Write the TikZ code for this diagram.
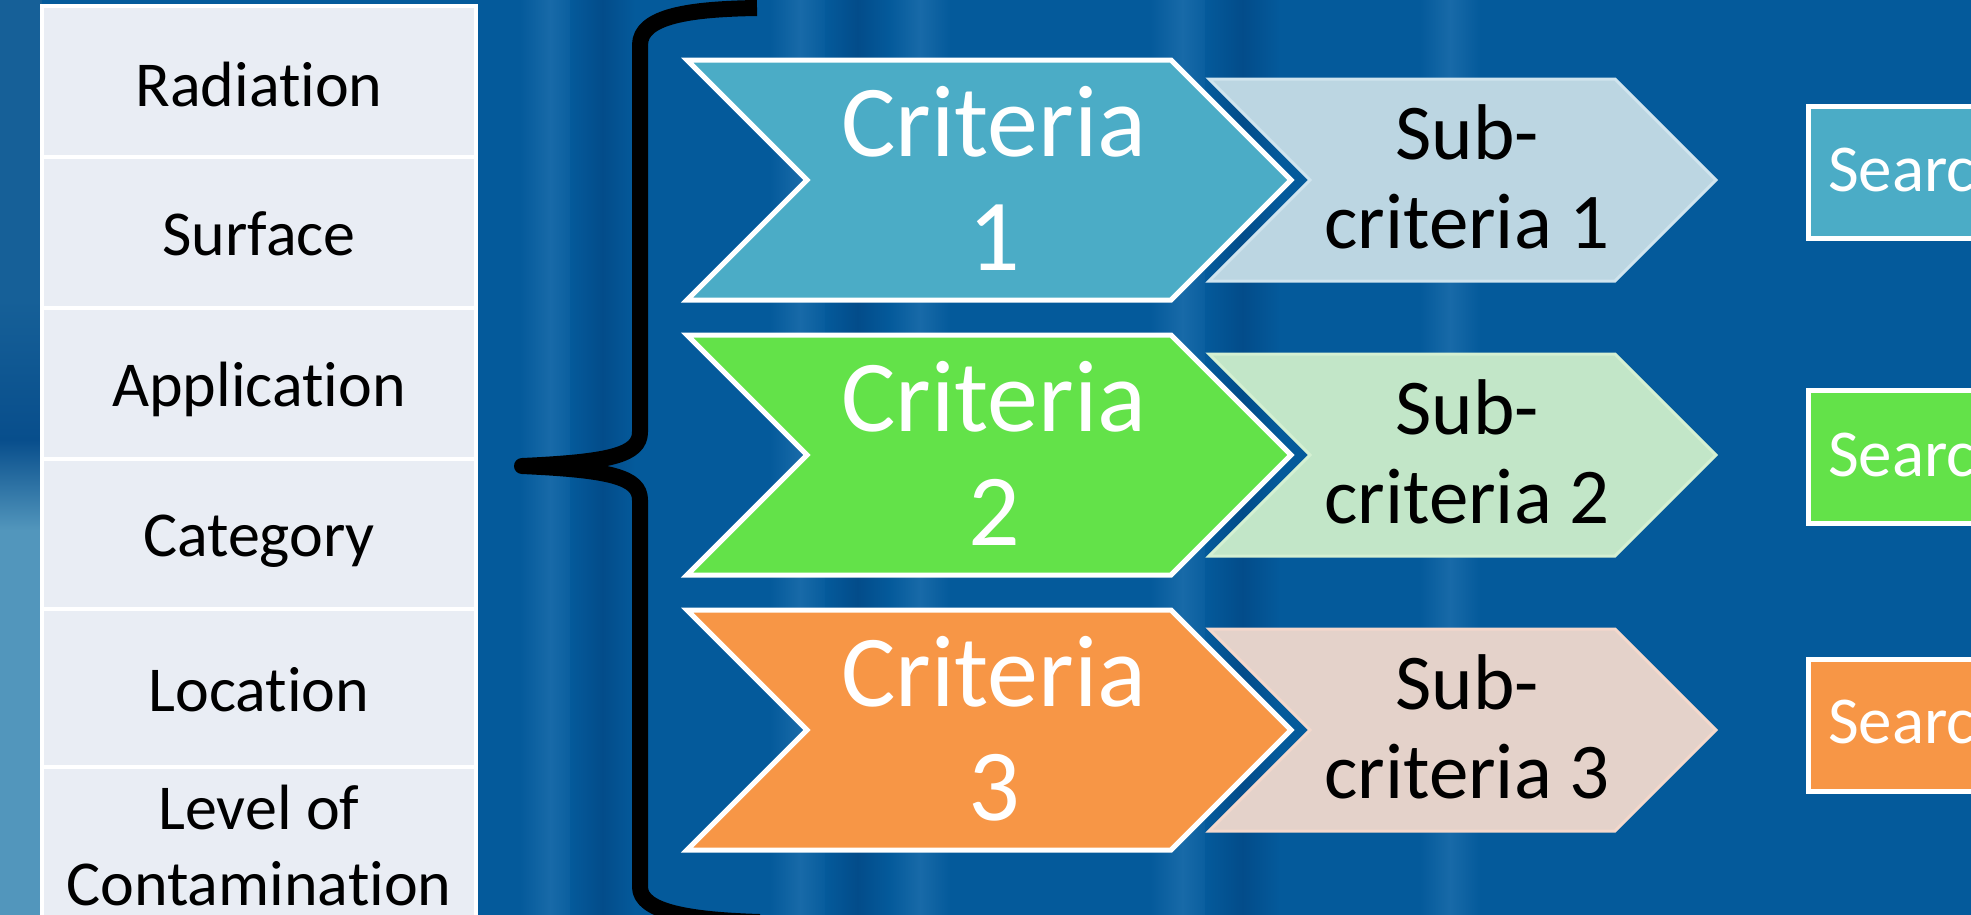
\documentclass[tikz,border=0pt]{standalone}
\usepackage{fontspec}
\setmainfont{Carlito}[Ligatures=NoCommon]
\usepackage{tikz}

\definecolor{bgblue}{RGB}{4,90,155}
\definecolor{bglight}{RGB}{24,106,168}
\definecolor{bgdark}{RGB}{3,76,138}
\definecolor{leftblue}{RGB}{22,96,152}
\definecolor{leftdark}{RGB}{8,78,140}
\definecolor{leftteal}{RGB}{82,150,188}
\definecolor{cellfill}{RGB}{233,237,244}
\definecolor{critA}{RGB}{75,172,198}
\definecolor{critB}{RGB}{99,226,73}
\definecolor{critC}{RGB}{247,150,70}
\definecolor{subA}{RGB}{188,214,226}
\definecolor{subB}{RGB}{194,230,200}
\definecolor{subC}{RGB}{228,210,202}
\definecolor{subAline}{RGB}{208,228,238}
\definecolor{subBline}{RGB}{212,240,210}
\definecolor{subCline}{RGB}{244,216,204}

\begin{document}
\begin{tikzpicture}[x=1pt,y=1pt,yscale=-1,xscale=1,
  cell/.style={draw=white, line width=3.5, fill=cellfill},
  celltext/.style={anchor=base, inner sep=0pt, align=center, font=\fontsize{64}{76}\selectfont},
  chev/.style={draw=white, line width=5, line join=miter},
  subchev/.style={line width=3, line join=miter},
  crittext/.style={anchor=north, inner sep=0pt, align=center, text=white, font=\fontsize{102}{114}\selectfont},
  subtext/.style={anchor=north, inner sep=0pt, align=center, font=\fontsize{79}{89}\selectfont},
  searchbox/.style={draw=white, line width=5},
  searchtext/.style={anchor=base west, inner sep=0pt, text=white, font=\fontsize{67}{80}\selectfont},
  streak/.style={left color=bgblue, right color=bgblue, middle color=#1},
  bracepath/.style={line width=16, line join=round}
]
\useasboundingbox (0,0) rectangle (1971,914);
\clip (0,0) rectangle (1971,914);

% Background
\fill[bgblue] (-20,-20) rectangle (1991,934);
\fill[streak=bglight] (520,-20) rectangle (580,934);
\fill[streak=bgdark] (570,-20) rectangle (635,934);
\fill[streak=bglight] (770,-20) rectangle (830,934);
\fill[streak=bgdark] (825,-20) rectangle (890,934);
\fill[streak=bglight] (890,-20) rectangle (950,934);
\fill[streak=bglight] (1150,-20) rectangle (1215,934);
\fill[streak=bgdark] (1205,-20) rectangle (1280,934);
\fill[streak=bglight] (1420,-20) rectangle (1480,934);
\fill[leftblue] (-20,-20) rectangle (42,300);
\shade[top color=leftblue, bottom color=leftdark] (-20,300) rectangle (42,440);
\shade[top color=leftdark, bottom color=leftteal] (-20,440) rectangle (42,530);
\fill[leftteal] (-20,530) rectangle (42,934);

% Table
\draw[cell] (42,6) rectangle (476,157);
\draw[cell] (42,157) rectangle (476,308);
\draw[cell] (42,308) rectangle (476,459);
\draw[cell] (42,459) rectangle (476,609);
\draw[cell] (42,609) rectangle (476,767);
\draw[cell] (42,767) rectangle (476,1000);

% Text Node
\node[celltext] (rad) at (259,106) {Radiation};
% Text Node
\node[celltext] (surf) at (259,255) {Surface};
% Text Node
\node[celltext] (appl) at (259,406) {Application};
% Text Node
\node[celltext] (cat) at (259,556) {Category};
% Text Node
\node[celltext] (loc) at (259,711) {Location};
% Text Node
\node[celltext, anchor=north] (lvl) at (259,785) {Level of\\Contamination};

% Brace
\draw[bracepath] (757,8) .. controls (690,9) and (640,16) .. (640,45) -- (640,432) .. controls (640,455) and (610,462) .. (522,466) .. controls (610,470) and (640,477) .. (640,500) -- (640,887) .. controls (640,912) and (690,920) .. (760,922);

% Sub-criteria chevrons
\draw[subchev, draw=subAline, fill=subA] (1209,79) -- (1615,79) -- (1716,180) -- (1615,281) -- (1209,281) -- (1310,180) -- cycle;
\draw[subchev, draw=subBline, fill=subB] (1209,354) -- (1615,354) -- (1716,455) -- (1615,556) -- (1209,556) -- (1310,455) -- cycle;
\draw[subchev, draw=subCline, fill=subC] (1209,629) -- (1615,629) -- (1716,730) -- (1615,831) -- (1209,831) -- (1310,730) -- cycle;

% Criteria chevrons
\draw[chev, fill=critA] (687,60) -- (1171,60) -- (1291,180) -- (1171,300) -- (687,300) -- (807,180) -- cycle;
\draw[chev, fill=critB] (687,335) -- (1171,335) -- (1291,455) -- (1171,575) -- (687,575) -- (807,455) -- cycle;
\draw[chev, fill=critC] (687,610) -- (1171,610) -- (1291,730) -- (1171,850) -- (687,850) -- (807,730) -- cycle;

% Search boxes
\draw[searchbox, fill=critA] (1808,106) rectangle (2000,238);
\draw[searchbox, fill=critB] (1808,390) rectangle (2000,523);
\draw[searchbox, fill=critC] (1808,659) rectangle (2000,791);

% Text Node
\node[crittext] (crit1) at (994,86) {Criteria\\1};
% Text Node
\node[crittext] (crit2) at (994,361) {Criteria\\2};
% Text Node
\node[crittext] (crit3) at (994,636) {Criteria\\3};
% Text Node
\node[subtext] (sub1) at (1467,104.5) {Sub-\\criteria 1};
% Text Node
\node[subtext] (sub2) at (1467,379.5) {Sub-\\criteria 2};
% Text Node
\node[subtext] (sub3) at (1467,654.5) {Sub-\\criteria 3};
% Text Node
\node[searchtext] (srch1) at (1828,191) {Search};
% Text Node
\node[searchtext] (srch2) at (1828,476) {Search};
% Text Node
\node[searchtext] (srch3) at (1828,743) {Search};

\end{tikzpicture}
\end{document}
